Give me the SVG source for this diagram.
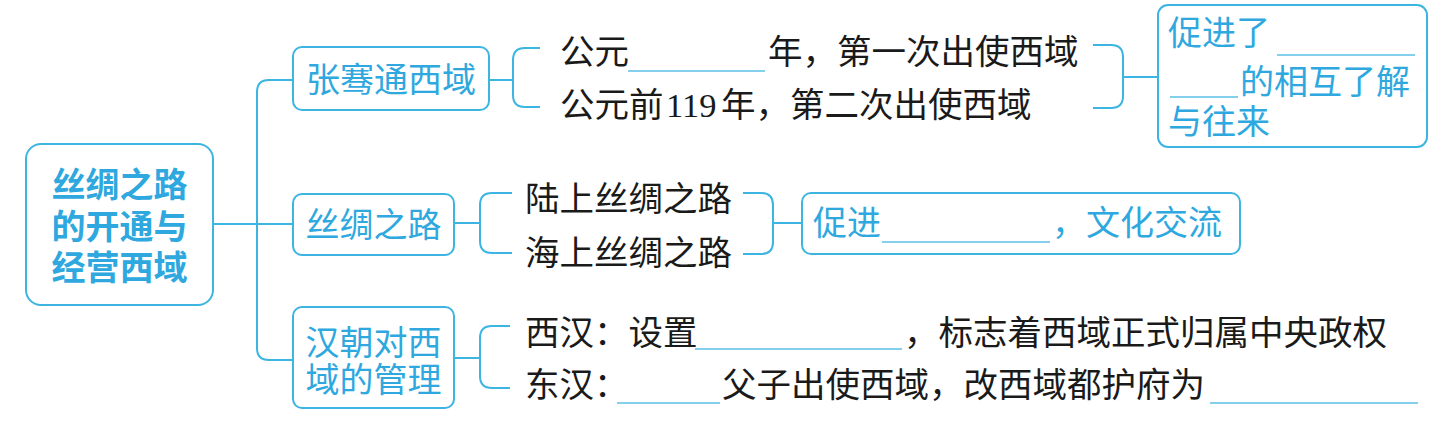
<svg xmlns="http://www.w3.org/2000/svg" width="1453" height="428" viewBox="0 0 1453 428">
<style>
.box{fill:#fff;stroke:#3db5e2;stroke-width:2}
.ln{fill:none;stroke:#3db5e2;stroke-width:2}
.ul{fill:none;stroke:#5bbfe6;stroke-width:1.6}
.bt{font-family:"Noto Sans CJK SC","Noto Sans",sans-serif;font-size:34px;fill:#2ea8de}
.rt{font-family:"Noto Sans CJK SC","Noto Sans",sans-serif;font-size:34px;fill:#2ea8de;font-weight:bold}
.kt{font-family:"Liberation Serif","Noto Sans CJK SC",serif;font-size:34.5px;fill:#1a1a1a}
</style>
<rect width="1453" height="428" fill="#fff"/>
<g id="connectors">
<path class="ln" d="M213,224 H293"/>
<path class="ln" d="M293,80 H269 Q257,80 257,92 V348 Q257,360 269,360 H293"/>
<path class="ln" d="M489,80 H513"/>
<path class="ln" d="M540,48 H525 Q513,48 513,60 V95 Q513,107 525,107 H540"/>
<path class="ln" d="M1093,45 H1111 Q1123,45 1123,57 V96 Q1123,108 1111,108 H1093 M1123,77 H1158"/>
<path class="ln" d="M454,223 H480"/>
<path class="ln" d="M512,193 H492 Q480,193 480,205 V241 Q480,253 492,253 H512"/>
<path class="ln" d="M743,193 H761 Q773,193 773,205 V242 Q773,254 761,254 H743 M773,223 H802"/>
<path class="ln" d="M454,358 H480"/>
<path class="ln" d="M510,326 H492 Q480,326 480,338 V376 Q480,388 492,388 H510"/>
</g>
<g id="root">
<rect class="box" x="26" y="144" width="187" height="161" rx="15"/>
<text class="rt" text-anchor="middle"><tspan x="119.5" y="197">丝绸之路</tspan><tspan x="119.5" y="239">的开通与</tspan><tspan x="119.5" y="280">经营西域</tspan></text>
</g>
<g id="node-zhangqian">
<rect class="box" x="293" y="47" width="196" height="63" rx="9"/>
<text class="bt" x="391" y="92" text-anchor="middle">张骞通西域</text>
</g>
<g id="node-zhangqian-items">
<text class="kt" x="560" y="64">公元</text>
<path class="ul" d="M628,71 H765"/>
<text class="kt" x="768" y="64">年，第一次出使西域</text>
<text class="kt" x="560" y="117">公元前<tspan x="666">119</tspan><tspan x="721">年，第二次出使西域</tspan></text>
</g>
<g id="node-result1">
<rect class="box" x="1158" y="5" width="269" height="142" rx="10"/>
<text class="bt" x="1168" y="45">促进了</text>
<path class="ul" d="M1277,55 H1415"/>
<path class="ul" d="M1170,97 H1238"/>
<text class="bt" x="1240" y="94">的相互了解</text>
<text class="bt" x="1168" y="134">与往来</text>
</g>
<g id="node-silkroad">
<rect class="box" x="293" y="194" width="161" height="61" rx="9"/>
<text class="bt" x="373.5" y="237" text-anchor="middle">丝绸之路</text>
</g>
<g id="node-silkroad-items">
<text class="kt" x="525" y="211">陆上丝绸之路</text>
<text class="kt" x="525" y="265">海上丝绸之路</text>
</g>
<g id="node-result2">
<rect class="box" x="802" y="193" width="438" height="61" rx="9"/>
<text class="bt" x="813" y="235">促进</text>
<path class="ul" d="M882,242 H1050"/>
<text class="bt" x="1052" y="235">，文化交流</text>
</g>
<g id="node-han">
<rect class="box" x="293" y="307" width="161" height="101" rx="9"/>
<text class="bt" text-anchor="middle"><tspan x="373.5" y="355">汉朝对西</tspan><tspan x="373.5" y="392">域的管理</tspan></text>
</g>
<g id="node-han-items">
<text class="kt" x="525" y="345">西汉：设置</text>
<path class="ul" d="M695,349 H902"/>
<text class="kt" x="904" y="345">，标志着西域正式归属中央政权</text>
<text class="kt" x="525" y="397">东汉：</text>
<path class="ul" d="M617,403 H720"/>
<text class="kt" x="722" y="397">父子出使西域，改西域都护府为</text>
<path class="ul" d="M1210,403 H1418"/>
</g>
</svg>
